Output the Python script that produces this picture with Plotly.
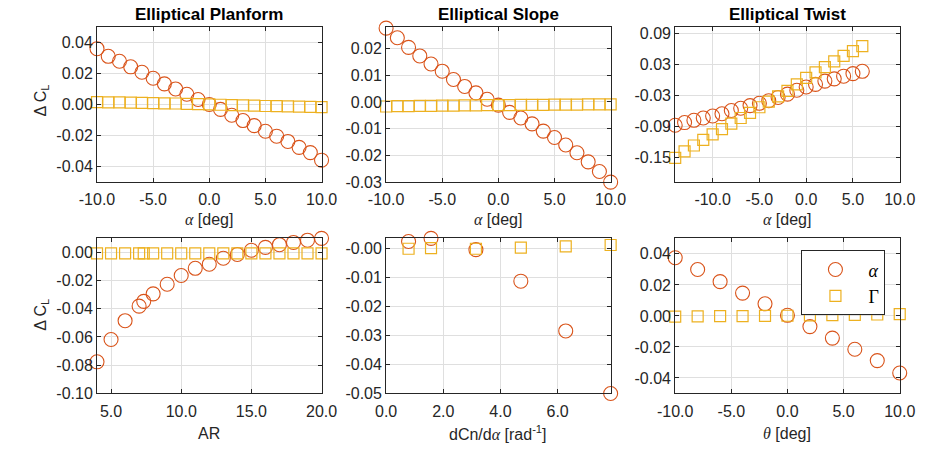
import plotly.graph_objects as go

W, H = 935, 457

# ---------------- data ----------------
alpha_pl = list(range(-10, 11))
pl_dcl_alpha = [0.0362, 0.0313, 0.0281, 0.0245, 0.0210, 0.0171, 0.0135, 0.0102, 0.0068, 0.0034, 0.0002,
                -0.0030, -0.0068, -0.0102, -0.0135, -0.0171, -0.0203, -0.0237, -0.0275, -0.0309, -0.0358]
pl_dcl_gamma = [0.0017, 0.0016, 0.0015, 0.0014, 0.0012, 0.0011, 0.0009, 0.0008, 0.0006, 0.0004, 0.0002,
                0.0000, -0.0002, -0.0004, -0.0006, -0.0008, -0.0009, -0.0011, -0.0012, -0.0014, -0.0015]

alpha_sl = list(range(-10, 11))
sl_dcl_alpha = [0.0276, 0.0240, 0.0204, 0.0172, 0.0142, 0.0115, 0.0084, 0.0058, 0.0034, 0.0010, -0.0012,
                -0.0039, -0.0060, -0.0082, -0.0109, -0.0133, -0.0161, -0.0190, -0.0224, -0.0260, -0.0300]
sl_dcl_gamma = [-0.0017, -0.0016, -0.0016, -0.0015, -0.0015, -0.0014, -0.0014, -0.0013, -0.0013, -0.0012, -0.0012,
                -0.0012, -0.0011, -0.0011, -0.0011, -0.0010, -0.0010, -0.0010, -0.0009, -0.0009, -0.0009]

alpha_tw = list(range(-14, 7))
tw_dcl_alpha = [-0.0874, -0.0823, -0.0779, -0.0735, -0.0697, -0.0653, -0.0591, -0.0547, -0.0496, -0.0452, -0.0402,
                -0.0339, -0.0276, -0.0201, -0.0138, -0.0087, -0.0025, 0.0019, 0.0070, 0.0120, 0.0164]
tw_dcl_gamma = [-0.1503, -0.1377, -0.1264, -0.1157, -0.1050, -0.0949, -0.0842, -0.0735, -0.0635, -0.0528, -0.0421,
                -0.0320, -0.0213, -0.0087, 0.0038, 0.0145, 0.0246, 0.0353, 0.0460, 0.0554, 0.0648]

ar = [4, 5, 6, 7, 7.33, 8, 9, 10, 11, 12, 13, 14, 15, 16, 17, 18, 19, 20]
ar_dcl_alpha = [-0.0776, -0.0618, -0.0485, -0.0382, -0.0348, -0.0295, -0.0227, -0.0165, -0.0114, -0.0085,
                -0.0043, -0.0016, 0.0014, 0.0034, 0.0053, 0.0069, 0.0085, 0.0098]
ar_dcl_gamma = [-0.0009, -0.0009, -0.0009, -0.0009, -0.0009, -0.0009, -0.0009, -0.0009, -0.0009, -0.0009,
                -0.0009, -0.0009, -0.0009, -0.0009, -0.0009, -0.0009, -0.0009, -0.0009]

dcn = [0.7854, 1.5708, 3.1416, 4.7124, 6.2832, 7.8540]
dcn_dcl_alpha = [0.0025, 0.0036, -0.0003, -0.0112, -0.0284, -0.0500]
dcn_dcl_gamma = [0.0000, 0.0002, 0.0000, 0.0004, 0.0008, 0.0013]

theta = [-10, -8, -6, -4, -2, 0, 2, 4, 6, 8, 10]
th_dcl_alpha = [0.0375, 0.0299, 0.0221, 0.0147, 0.0078, 0.0004, -0.0069, -0.0143, -0.0215, -0.0288, -0.0368]
th_dcl_gamma = [-0.0004, -0.0003, -0.0002, -0.0001, 0.0000, 0.0001, 0.0003, 0.0005, 0.0007, 0.0009, 0.0011]

titles = ["Elliptical Planform", "Elliptical Slope", "Elliptical Twist"]
legend_names = ["<i>α</i>", "Γ"]

# tick values / labels
xt_alpha = [-10, -5, 0, 5, 10]
xt_alpha_lbl = ["-10.0", "-5.0", "0.0", "5.0", "10.0"]
xt_ar = [5, 10, 15, 20]
xt_ar_lbl = ["5.0", "10.0", "15.0", "20.0"]
xt_dcn = [0, 2, 4, 6]
xt_dcn_lbl = ["0.0", "2.0", "4.0", "6.0"]
yt_pl = [-0.04, -0.02, 0, 0.02, 0.04]
yt_pl_lbl = ["-0.04", "-0.02", "0.00", "0.02", "0.04"]
yt_sl = [-0.03, -0.02, -0.01, 0, 0.01, 0.02]
yt_sl_lbl = ["-0.03", "-0.02", "-0.01", "0.00", "0.01", "0.02"]
yt_tw = [-0.15, -0.09, -0.03, 0.03, 0.09]
yt_tw_lbl = ["-0.15", "-0.09", "-0.03", "0.03", "0.09"]
yt_ar = [-0.10, -0.08, -0.06, -0.04, -0.02, 0]
yt_ar_lbl = ["-0.10", "-0.08", "-0.06", "-0.04", "-0.02", "0.00"]
yt_dcn = [-0.05, -0.04, -0.03, -0.02, -0.01, 0]
yt_dcn_lbl = ["-0.05", "-0.04", "-0.03", "-0.02", "-0.01", "-0.00"]
# ---------------------------------------

C_ALPHA = "#D95319"
C_GAMMA = "#EDB120"
AXC = "#262626"
GRID = "#DFDFDF"
FONT = "Liberation Sans"
SERIF = "Liberation Serif"

def greek(ch, italic=True):
    st = "font-family:'%s';" % SERIF
    if italic:
        st += "font-style:italic;"
    return "<span style=\"%s\">%s</span>" % (st, ch)

# pixel geometry
cols_px = [(82, 315), (382, 615), (682, 915)]
rows_px = [(25, 184), (241.7, 401)]

def xd(c):
    return [cols_px[c][0] / W, cols_px[c][1] / W]

def yd(r):
    return [1 - rows_px[r][1] / H, 1 - rows_px[r][0] / H]

panels = [
    dict(x=alpha_pl, a=pl_dcl_alpha, g=pl_dcl_gamma, xr=[-10, 10], yr=[-0.05, 0.05],
         xt=xt_alpha, xtt=xt_alpha_lbl, yt=yt_pl, ytt=yt_pl_lbl),
    dict(x=alpha_sl, a=sl_dcl_alpha, g=sl_dcl_gamma, xr=[-10, 10], yr=[-0.030, 0.0279],
         xt=xt_alpha, xtt=xt_alpha_lbl, yt=yt_sl, ytt=yt_sl_lbl),
    dict(x=alpha_tw, a=tw_dcl_alpha, g=tw_dcl_gamma, xr=[-14, 10], yr=[-0.197, 0.101],
         xt=xt_alpha, xtt=xt_alpha_lbl, yt=yt_tw, ytt=yt_tw_lbl),
    dict(x=ar, a=ar_dcl_alpha, g=ar_dcl_gamma, xr=[4, 20], yr=[-0.10, 0.0098],
         xt=xt_ar, xtt=xt_ar_lbl, yt=yt_ar, ytt=yt_ar_lbl),
    dict(x=dcn, a=dcn_dcl_alpha, g=dcn_dcl_gamma, xr=[0, 7.854], yr=[-0.050, 0.0036],
         xt=xt_dcn, xtt=xt_dcn_lbl, yt=yt_dcn, ytt=yt_dcn_lbl),
    dict(x=theta, a=th_dcl_alpha, g=th_dcl_gamma, xr=[-10, 10], yr=[-0.05, 0.05],
         xt=xt_alpha, xtt=xt_alpha_lbl, yt=yt_pl, ytt=yt_pl_lbl),
]

xlabels = [
    greek("α") + " [deg]", greek("α") + " [deg]", greek("α") + " [deg]",
    "AR", "dCn/d" + greek("α") + " [rad<sup>-1</sup>]", greek("θ") + " [deg]",
]

fig = go.Figure()
layout = dict(
    width=W, height=H,
    margin=dict(l=0, r=0, t=0, b=0),
    paper_bgcolor="white", plot_bgcolor="white",
    font=dict(family=FONT, size=16, color=AXC),
    showlegend=True,
    annotations=[],
)

for i, p in enumerate(panels):
    r, c = divmod(i, 3)
    n = "" if i == 0 else str(i + 1)
    xa, ya = "x" + n, "y" + n
    show = (i == 5)
    fig.add_trace(go.Scatter(
        x=p["x"], y=p["a"], mode="markers", xaxis=xa, yaxis=ya, cliponaxis=False,
        name=legend_names[0], showlegend=show,
        marker=dict(symbol="circle-open", size=14, color=C_ALPHA, line=dict(width=1.1, color=C_ALPHA)),
    ))
    fig.add_trace(go.Scatter(
        x=p["x"], y=p["g"], mode="markers", xaxis=xa, yaxis=ya, cliponaxis=False,
        name=legend_names[1], showlegend=show,
        marker=dict(symbol="square-open", size=11, color=C_GAMMA, line=dict(width=1.2, color=C_GAMMA)),
    ))
    common = dict(showline=True, linecolor=AXC, linewidth=1, mirror="ticks",
                  ticks="inside", ticklen=4, tickcolor=AXC, tickwidth=1,
                  showgrid=True, gridcolor=GRID, gridwidth=1, zeroline=False,
                  tickfont=dict(family=FONT, size=16, color=AXC))
    layout["xaxis" + n] = dict(common, domain=xd(c), anchor=ya, range=p["xr"],
                               tickmode="array", tickvals=p["xt"], ticktext=p["xtt"],
                               ticklabelstandoff=3)
    layout["yaxis" + n] = dict(common, domain=yd(r), anchor=xa, range=p["yr"],
                               tickmode="array", tickvals=p["yt"], ticktext=p["ytt"])

    layout["annotations"].append(dict(
        text=xlabels[i], xref="paper", yref="paper",
        x=(xd(c)[0] + xd(c)[1]) / 2, y=1 - ([222, 442][r]) / H,
        xanchor="center", yanchor="middle", showarrow=False,
        font=dict(family=FONT, size=16, color=AXC)))

for c in range(3):
    layout["annotations"].append(dict(
        text="<b>%s</b>" % titles[c], xref="paper", yref="paper",
        x=(xd(c)[0] + xd(c)[1]) / 2, y=1 - 12 / H,
        xanchor="center", yanchor="middle", showarrow=False,
        font=dict(family=FONT, size=17, color="black")))

for r in range(2):
    layout["annotations"].append(dict(
        text="Δ C<sub>L</sub>", xref="paper", yref="paper",
        x=24 / W, y=1 - ([100, 320][r]) / H, textangle=-90,
        xanchor="center", yanchor="middle", showarrow=False,
        font=dict(family=FONT, size=16, color=AXC)))

layout["legend"] = dict(
    x=813 / W, y=1 - 254 / H, xanchor="left", yanchor="top",
    bgcolor="white", bordercolor=AXC, borderwidth=1,
    font=dict(family=SERIF, size=18, color="black"),
    itemwidth=56, tracegroupgap=0,
)

fig.update_layout(**layout)
fig.write_html("out.html")
